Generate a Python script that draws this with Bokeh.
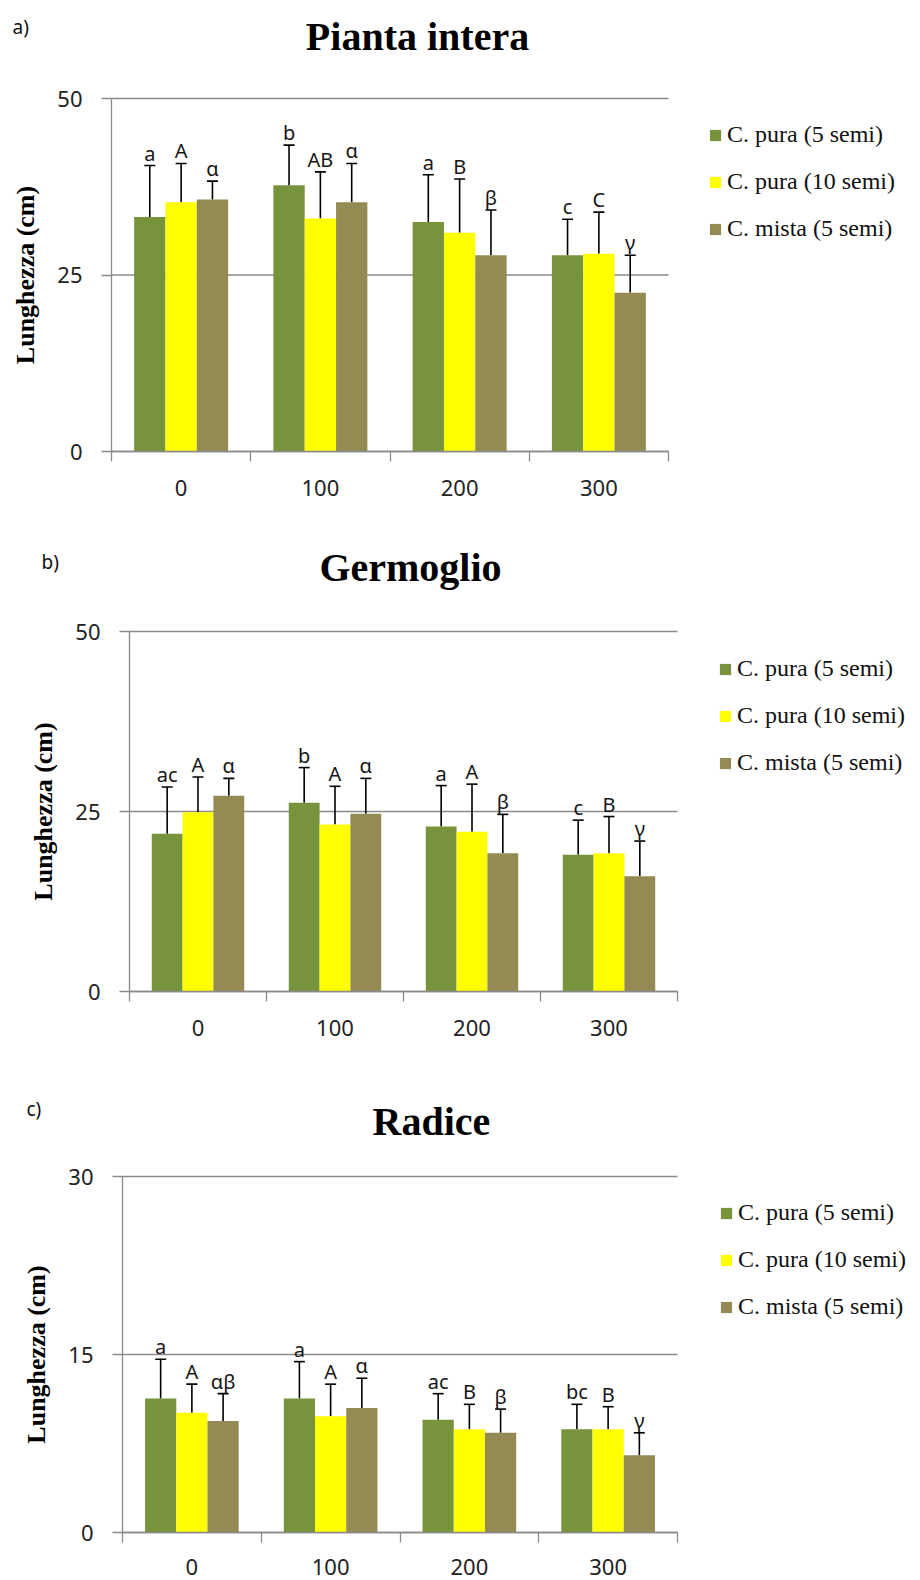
import numpy as np
from bokeh.plotting import figure
from bokeh.core.properties import value
from bokeh.models import (ColumnDataSource, Range1d, FixedTicker, Whisker, TeeHead,
                          LabelSet, Label, Legend, LegendItem)
from bokeh.layouts import column
from bokeh.embed import file_html
from bokeh.resources import INLINE

# ---------------------------------------------------------------- data
doses = ["0", "100", "200", "300"]
series_labels = ["C. pura (5 semi)", "C. pura (10 semi)", "C. mista (5 semi)"]
series_colors = ["#77933C", "#FFFF00", "#948A54"]

# a) Pianta intera
pianta_pura5 = [33.2, 37.7, 32.5, 27.8]
pianta_pura5_sd = [7.3, 5.7, 6.7, 5.1]
pianta_pura5_sig = ["a", "b", "a", "c"]
pianta_pura10 = [35.3, 33.0, 31.0, 28.0]
pianta_pura10_sd = [5.5, 6.6, 7.6, 5.9]
pianta_pura10_sig = ["A", "AB", "B", "C"]
pianta_mista5 = [35.7, 35.3, 27.8, 22.5]
pianta_mista5_sd = [2.6, 5.5, 6.4, 5.3]
pianta_mista5_sig = ["α", "α", "β", "γ"]

# b) Germoglio
germ_pura5 = [21.9, 26.2, 22.9, 19.0]
germ_pura5_sd = [6.5, 4.9, 5.7, 4.8]
germ_pura5_sig = ["ac", "b", "a", "c"]
germ_pura10 = [24.9, 23.2, 22.2, 19.2]
germ_pura10_sd = [4.9, 5.3, 6.6, 5.1]
germ_pura10_sig = ["A", "A", "A", "B"]
germ_mista5 = [27.2, 24.7, 19.2, 16.0]
germ_mista5_sd = [2.4, 4.9, 5.4, 4.9]
germ_mista5_sig = ["α", "α", "β", "γ"]

# c) Radice
rad_pura5 = [11.3, 11.3, 9.5, 8.7]
rad_pura5_sd = [3.3, 3.1, 2.2, 2.1]
rad_pura5_sig = ["a", "a", "ac", "bc"]
rad_pura10 = [10.1, 9.8, 8.7, 8.7]
rad_pura10_sd = [2.4, 2.7, 2.1, 1.9]
rad_pura10_sig = ["A", "A", "B", "B"]
rad_mista5 = [9.4, 10.5, 8.4, 6.5]
rad_mista5_sd = [2.3, 2.5, 2.0, 1.9]
rad_mista5_sig = ["αβ", "α", "β", "γ"]

# ---------------------------------------------------------------- style
AXIS_GREY = "#8a8a8a"
SANS = "Noto Sans"
SERIF = "Liberation Serif"
BAR_W = 0.225
OFFSETS = [-BAR_W, 0.0, BAR_W]
WIDTH = 920
LEG_ITEM_H, LEG_GAP = 27, 20


def panel(tag, title, ymax, series, height, box, title_xy, tag_xy, legend_xy,
          xlabel_standoff=18):
    """One bar panel.  `box` = (left, right, top, bottom) pixel edges of the
    plotting area inside the canvas; the figure's frame covers the whole canvas
    so that titles, tag and legend can sit around the bars."""
    n = len(doses)
    fl, fr, ft, fb = box
    kx = (fr - fl) / n          # pixels per category
    ky = (fb - ft) / ymax       # pixels per cm
    x_range = Range1d(-fl / kx, n + (WIDTH - fr) / kx)
    y_range = Range1d(-(height - fb) / ky, ymax + ft / ky)

    p = figure(width=WIDTH, height=height, x_range=x_range, y_range=y_range,
               output_backend="svg", toolbar_location=None, tools="",
               min_border=0, min_border_left=0, min_border_right=0,
               min_border_top=0, min_border_bottom=0)
    p.outline_line_color = None
    p.background_fill_color = "white"
    p.border_fill_color = "white"
    p.grid.visible = False

    def to_data(px, py):
        return (px - fl) / kx, (fb - py) / ky

    ticks = [0, ymax / 2, ymax]
    # horizontal grid lines across the category band only
    p.segment(x0=[0] * len(ticks), x1=[n] * len(ticks), y0=ticks, y1=ticks,
              line_color=AXIS_GREY, line_width=1.3, level="underlay")

    centers = np.arange(n) + 0.5
    items = []
    for (vals, sds, sigs), off, color, name in zip(series, OFFSETS, series_colors, series_labels):
        x = centers + off
        upper = np.array(vals) + np.array(sds)
        src = ColumnDataSource(dict(x=x, top=vals, upper=upper, sig=sigs))
        r = p.vbar(x="x", top="top", width=BAR_W, source=src,
                   fill_color=color, line_color=None)
        items.append(LegendItem(label=name, renderers=[r]))
        p.add_layout(Whisker(source=src, base="x", lower="top", upper="upper",
                             line_color="black", line_width=1.6,
                             upper_head=TeeHead(size=11, line_color="black", line_width=1.6),
                             lower_head=None))
        p.add_layout(LabelSet(x="x", y="upper", text="sig", source=src,
                              text_align="center", text_baseline="bottom",
                              y_offset=-1, text_font=value(SANS),
                              text_font_size=value("20px"),
                              text_color="#161616"))

    # y axis pinned at the first category edge
    p.yaxis.fixed_location = 0
    p.yaxis.bounds = (0, ymax)
    p.yaxis.ticker = FixedTicker(ticks=ticks)
    p.yaxis.major_label_overrides = {t: f"{t:g}" for t in ticks}
    p.yaxis.axis_line_color = AXIS_GREY
    p.yaxis.axis_line_width = 1.3
    p.yaxis.major_tick_line_color = AXIS_GREY
    p.yaxis.major_tick_line_width = 1.3
    p.yaxis.major_tick_out = 10
    p.yaxis.major_tick_in = 0
    p.yaxis.minor_tick_line_color = None
    p.yaxis.major_label_standoff = 19
    p.yaxis.major_label_text_font = SANS
    p.yaxis.major_label_text_font_size = "22px"
    p.yaxis.major_label_text_color = "#222222"
    p.yaxis.axis_label = "Lunghezza (cm)"
    p.yaxis.axis_label_text_font = SERIF
    p.yaxis.axis_label_text_font_style = "bold"
    p.yaxis.axis_label_text_font_size = "26px"
    p.yaxis.axis_label_text_color = "black"
    p.yaxis.axis_label_standoff = 14

    # x axis pinned at zero, category boundaries as tick marks
    p.xaxis.fixed_location = 0
    p.xaxis.bounds = (0, n)
    p.xaxis.ticker = FixedTicker(ticks=list(centers), minor_ticks=list(range(n + 1)))
    p.xaxis.major_label_overrides = {float(c): d for c, d in zip(centers, doses)}
    p.xaxis.axis_line_color = AXIS_GREY
    p.xaxis.axis_line_width = 1.3
    p.xaxis.major_tick_line_color = None
    p.xaxis.major_tick_out = 0
    p.xaxis.major_tick_in = 0
    p.xaxis.minor_tick_line_color = AXIS_GREY
    p.xaxis.minor_tick_line_width = 1.3
    p.xaxis.minor_tick_out = 10
    p.xaxis.minor_tick_in = 0
    p.xaxis.major_label_standoff = xlabel_standoff
    p.xaxis.major_label_text_font = SANS
    p.xaxis.major_label_text_font_size = "22px"
    p.xaxis.major_label_text_color = "#222222"

    # panel title and tag
    tx, ty = to_data(*title_xy)
    p.add_layout(Label(x=tx, y=ty, text=title, text_align="center", text_baseline="middle",
                       text_font=SERIF, text_font_style="bold", text_font_size="40px",
                       text_color="black"))
    gx, gy = to_data(*tag_xy)
    p.add_layout(Label(x=gx, y=gy, text=tag, text_align="left", text_baseline="middle",
                       text_font=SANS, text_font_size="19px", text_color="#111111"))

    # legend to the right of the bars (location counted from the canvas bottom-left)
    lx, ly = legend_xy
    leg_h = 3 * LEG_ITEM_H + 2 * LEG_GAP
    legend = Legend(items=items, location=(lx, height - ly - leg_h),
                    glyph_width=14, glyph_height=14, label_height=LEG_ITEM_H,
                    spacing=LEG_GAP, padding=0, margin=0, label_standoff=5,
                    border_line_color=None, background_fill_alpha=0,
                    label_text_font=SERIF, label_text_font_size="24px",
                    label_text_color="#111111")
    p.add_layout(legend)
    return p


pa = panel("a)", "Pianta intera", 50,
           [(pianta_pura5, pianta_pura5_sd, pianta_pura5_sig),
            (pianta_pura10, pianta_pura10_sd, pianta_pura10_sig),
            (pianta_mista5, pianta_mista5_sd, pianta_mista5_sig)],
           height=520, box=(111, 668, 98, 451),
           title_xy=(417, 36), tag_xy=(12, 26), legend_xy=(708, 121))

pb = panel("b)", "Germoglio", 50,
           [(germ_pura5, germ_pura5_sd, germ_pura5_sig),
            (germ_pura10, germ_pura10_sd, germ_pura10_sig),
            (germ_mista5, germ_mista5_sd, germ_mista5_sig)],
           height=542, box=(129, 677, 111, 471),
           title_xy=(410, 47), tag_xy=(41, 41), legend_xy=(718, 135))

pc = panel("c)", "Radice", 30,
           [(rad_pura5, rad_pura5_sd, rad_pura5_sig),
            (rad_pura10, rad_pura10_sd, rad_pura10_sig),
            (rad_mista5, rad_mista5_sd, rad_mista5_sig)],
           height=518, box=(122, 677, 114, 470),
           title_xy=(431, 59), tag_xy=(26, 46), legend_xy=(719, 137),
           xlabel_standoff=16)

layout = column(pa, pb, pc, spacing=0)
open("out.html", "w").write(file_html(layout, INLINE))
